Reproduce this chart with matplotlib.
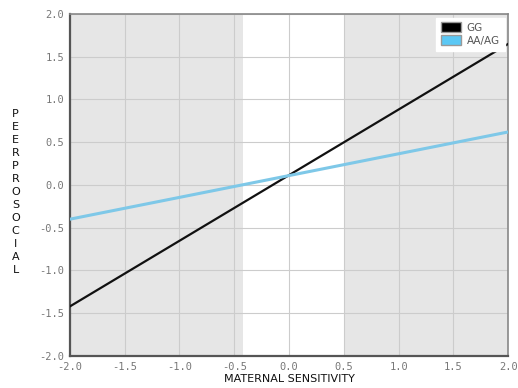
import numpy as np
import matplotlib
matplotlib.use("Agg")
import matplotlib.pyplot as plt
from matplotlib.patches import Patch

# end points of the two regression lines
x_ends = [-2.0, 2.0]
gg_ends = [-1.42, 1.65]
aa_ends = [-0.40, 0.62]

# regions of significance (shaded)
shade_left = (-2.0, -0.42)
shade_right = (0.5, 2.0)

ticks = np.arange(-2.0, 2.01, 0.5)
ylabel = "PEERPROSOCIAL"

fig = plt.figure(figsize=(5.18, 3.88), dpi=100)
ax = fig.add_axes([0.135, 0.0825, 0.846, 0.8815])

ax.axvspan(*shade_left, color="#e6e6e6", zorder=0, lw=0)
ax.axvspan(*shade_right, color="#e6e6e6", zorder=0, lw=0)

ax.plot(x_ends, gg_ends, color="#111111", lw=1.6, zorder=3)
ax.plot(x_ends, aa_ends, color="#7ec8e8", lw=2.2, zorder=3)

ax.set_xlim(-2, 2)
ax.set_ylim(-2, 2)
ax.set_xticks(ticks)
ax.set_yticks(ticks)
ax.grid(True, color="#cccccc", lw=0.8, zorder=1)
ax.set_axisbelow(True)

tick_font = dict(family="DejaVu Sans Mono", size=7.5, color="#777777")
ax.set_xticklabels([f"{t:.1f}" for t in ticks], **tick_font)
ax.set_yticklabels([f"{t:.1f}" for t in ticks], **tick_font)
ax.tick_params(length=0, pad=4)

for side in ["top", "right"]:
    ax.spines[side].set_color("#888888")
    ax.spines[side].set_linewidth(1.2)
for side in ["left", "bottom"]:
    ax.spines[side].set_color("#555555")
    ax.spines[side].set_linewidth(1.6)

ax.set_xlabel("MATERNAL SENSITIVITY", fontsize=8, color="#111111", labelpad=2)
fig.text(0.03, 0.505, "\n".join(ylabel), fontsize=8, ha="center", va="center",
         linespacing=1.38, color="#111111")

handles = [Patch(facecolor="#000000", edgecolor="#999999", label="GG"),
           Patch(facecolor="#5bc8f5", edgecolor="#999999", label="AA/AG")]
leg = ax.legend(handles=handles, loc="upper right", fontsize=7.5, frameon=True,
                fancybox=False, framealpha=1, edgecolor="white",
                handlelength=2.0, handleheight=1.1, borderpad=0.45,
                labelspacing=0.25, handletextpad=0.5, borderaxespad=0.35)
for t in leg.get_texts():
    t.set_color("#555555")

fig.savefig("out.png", dpi=100)
